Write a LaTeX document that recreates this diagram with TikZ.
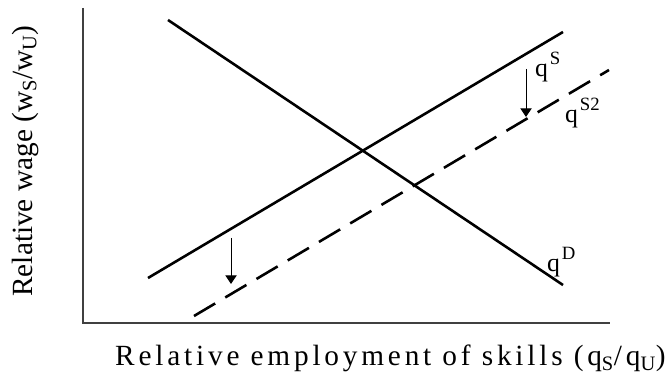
\documentclass[tikz,border=0pt]{standalone}
\usepackage{fontspec}
\setmainfont{Liberation Serif}
\usetikzlibrary{arrows.meta}

\newcommand{\upidx}[1]{\kern1.5pt\raisebox{0.48em}{\fontsize{16}{16}\selectfont #1}}

\begin{document}
\begin{tikzpicture}[
    x=0.03cm, y=-0.03cm,
    axis/.style={line width=1pt, draw=black!75},
    curve/.style={line width=2.2pt},
    shiftarr/.style={line width=0.8pt, -{Triangle[length=2.6mm, width=3.4mm]}},
    lbl/.style={font=\fontsize{22}{24}\selectfont, inner sep=0pt},
]
\useasboundingbox (0,0) rectangle (665,374);

% Axes
\coordinate (ytop) at (83,8);
\coordinate (o) at (83,323);
\coordinate (xend) at (610,323);
\draw[axis] (ytop) -- (o) -- (xend);

% Demand and supply curves
\coordinate (d1) at (168,20);
\coordinate (d2) at (563,285);
\coordinate (s1) at (148,278);
\coordinate (s2) at (563,32);
\coordinate (t1) at (194,316);
\coordinate (t2) at (609,70);
\draw[curve] (d1) -- (d2);
\draw[curve] (s1) -- (s2);
\draw[curve, dash pattern=on 21pt off 10pt] (t1) -- (t2);

% Shift arrows
\coordinate (a1) at (231,238);
\coordinate (b1) at (231,284);
\coordinate (a2) at (526,69);
\coordinate (b2) at (526,117);
\draw[shiftarr] (a1) -- (b1);
\draw[shiftarr] (a2) -- (b2);

% Curve labels
\node[lbl, anchor=base west] (qs) at (535,77) {q\upidx{S}};
\node[lbl, anchor=base west] (qs2) at (565,123) {q\upidx{S2}};
\node[lbl, anchor=base west] (qd) at (547,272) {q\upidx{D}};

% Axis labels
\node[lbl, font=\fontsize{25}{27}\selectfont, rotate=90, anchor=base] (ylab) at (32,161) {Relative wage (w\textsubscript{S}/w\textsubscript{U})};
\node[lbl, font=\fontsize{25}{27}\selectfont, anchor=base west] (xlab) at (115,366) {\addfontfeatures{LetterSpace=13}Relative employment of skills (q\textsubscript{S}/q\textsubscript{U})};

\end{tikzpicture}
\end{document}
